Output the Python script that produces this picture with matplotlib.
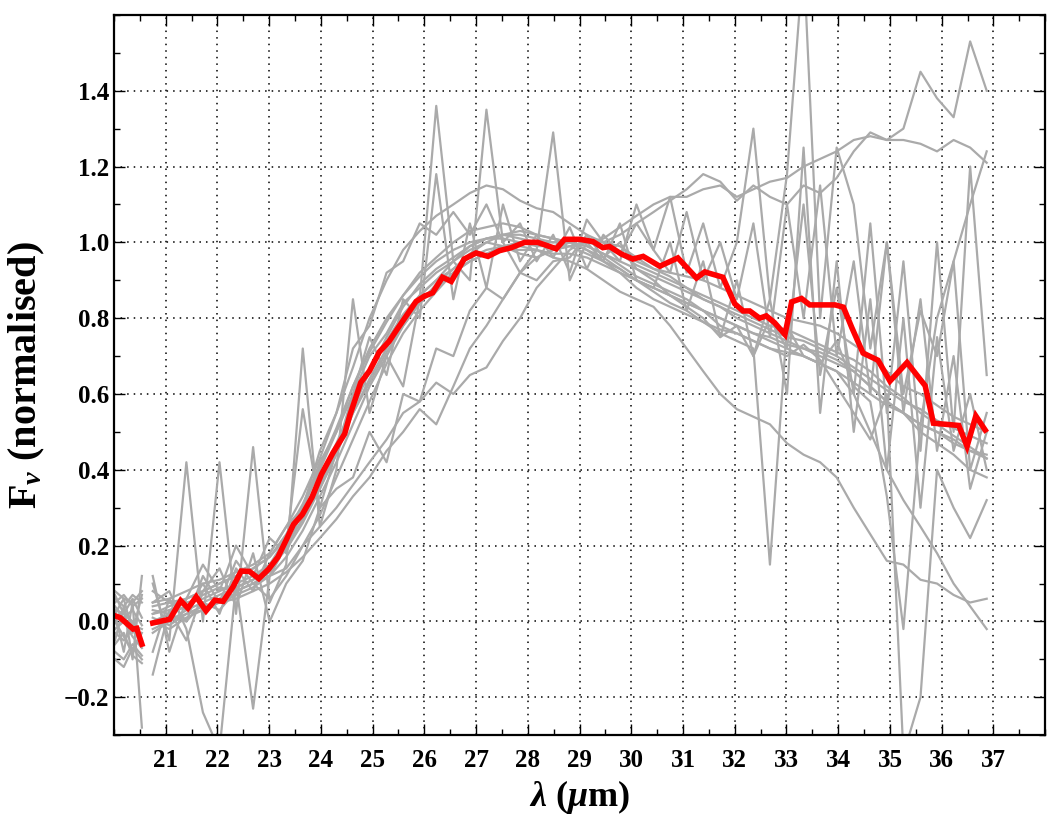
import matplotlib
matplotlib.use("Agg")
import matplotlib.pyplot as plt
from matplotlib.ticker import MultipleLocator

plt.rcParams['font.family'] = ['Liberation Serif', 'DejaVu Serif']
plt.rcParams['font.weight'] = 'bold'
plt.rcParams['mathtext.fontset'] = 'custom'
plt.rcParams['mathtext.rm'] = 'Liberation Serif:bold'
plt.rcParams['mathtext.it'] = 'Liberation Serif:italic:bold'
plt.rcParams['mathtext.bf'] = 'Liberation Serif:bold'

# wavelength sampling of the individual spectra (um)
wave_a = [20.02, 20.19, 20.36, 20.54]
wave_b = [20.75, 21.07, 21.40, 21.72, 22.04, 22.36, 22.69, 23.01, 23.33, 23.65,
          23.98, 24.30, 24.62, 24.94, 25.27, 25.59, 25.91, 26.23, 26.56, 26.88,
          27.20, 27.52, 27.85, 28.17, 28.49, 28.81, 29.14, 29.46, 29.78, 30.10,
          30.43, 30.75, 31.07, 31.39, 31.72, 32.04, 32.36, 32.68, 33.01, 33.33,
          33.65, 33.97, 34.30, 34.62, 34.94, 35.26, 35.59, 35.91, 36.23, 36.55,
          36.87]

# individual normalised spectra (grey)
spec_a = [
    [0.05, 0.07, 0.04, 0.06],
    [-0.03, -0.05, -0.02, -0.06],
    [0.08, 0.06, 0.05, 0.08],
    [0.00, -0.04, -0.08, -0.03],
    [0.03, 0.02, 0.00, -0.05],
    [-0.05, 0.04, -0.10, 0.12],
    [0.02, -0.08, 0.05, -0.28],
    [0.01, 0.03, -0.01, -0.02],
    [0.06, 0.04, 0.07, 0.05],
    [-0.08, -0.10, -0.06, -0.09],
    [0.04, 0.01, 0.03, -0.01],
    [-0.02, 0.00, -0.04, -0.07],
    [0.07, 0.02, 0.06, 0.01],
    [-0.10, -0.12, -0.07, -0.10],
    [0.02, 0.06, -0.03, 0.07],
    [-0.06, -0.03, -0.09, -0.11],
]
spec_b = [
    [0.02, 0.03, 0.05, 0.06, 0.08, 0.10, 0.12, 0.15, 0.22, 0.30, 0.40, 0.50, 0.62, 0.72, 0.80, 0.86, 0.92,
     0.96, 1.00, 1.03, 1.04, 1.05, 1.04, 1.02, 1.01, 1.00, 0.99, 0.97, 0.95, 0.93, 0.91, 0.89, 0.87, 0.85,
     0.83, 0.81, 0.79, 0.77, 0.75, 0.74, 0.72, 0.70, 0.67, 0.64, 0.61, 0.58, 0.56, 0.53, 0.51, 0.49, 0.47],
    [-0.02, 0.00, 0.02, 0.04, 0.05, 0.07, 0.09, 0.12, 0.17, 0.24, 0.33, 0.42, 0.52, 0.62, 0.70, 0.78, 0.84,
     0.89, 0.93, 0.97, 1.00, 1.02, 1.03, 1.02, 1.01, 1.00, 0.98, 0.96, 0.93, 0.90, 0.88, 0.86, 0.84, 0.82,
     0.80, 0.78, 0.76, 0.75, 0.73, 0.72, 0.70, 0.68, 0.66, 0.62, 0.58, 0.55, 0.52, 0.50, 0.47, 0.45, 0.44],
    [0.05, 0.06, 0.08, 0.10, 0.11, 0.13, 0.15, 0.18, 0.25, 0.33, 0.43, 0.55, 0.67, 0.80, 0.90, 0.98, 1.03,
     1.07, 1.10, 1.13, 1.15, 1.14, 1.11, 1.09, 1.08, 1.05, 1.02, 1.00, 0.97, 0.95, 0.93, 0.92, 0.91, 0.90,
     0.88, 0.86, 0.84, 0.82, 0.80, 0.79, 0.78, 0.76, 0.73, 0.70, 0.66, 0.62, 0.60, 0.57, 0.54, 0.52, 0.50],
    [0.00, -0.02, 0.01, 0.03, 0.05, 0.06, 0.08, 0.10, 0.13, 0.17, 0.22, 0.27, 0.33, 0.38, 0.45, 0.50, 0.56,
     0.52, 0.62, 0.72, 0.78, 0.85, 0.92, 0.96, 0.98, 0.99, 1.00, 0.99, 0.97, 0.94, 0.92, 0.90, 0.88, 0.85,
     0.83, 0.80, 0.78, 0.76, 0.74, 0.72, 0.71, 0.69, 0.66, 0.62, 0.58, 0.55, 0.50, 0.47, 0.44, 0.40, 0.38],
    [0.03, 0.02, 0.04, 0.07, 0.09, 0.08, 0.10, 0.12, 0.14, 0.20, 0.25, 0.30, 0.36, 0.42, 0.48, 0.55, 0.58,
     0.63, 0.60, 0.65, 0.67, 0.74, 0.80, 0.88, 0.93, 0.98, 1.01, 1.00, 0.99, 0.96, 0.93, 0.91, 0.88, 0.86,
     0.84, 0.82, 0.80, 0.78, 0.77, 0.75, 0.73, 0.71, 0.69, 0.66, 0.62, 0.59, 0.55, 0.52, 0.49, 0.46, 0.43],
    [0.10, -0.05, 0.42, 0.00, 0.42, 0.02, 0.46, 0.05, 0.15, 0.72, 0.25, 0.40, 0.85, 0.55, 0.70, 0.62, 0.85,
     1.36, 0.95, 0.90, 1.35, 1.00, 0.92, 0.98, 1.29, 0.90, 1.00, 0.95, 1.05, 0.90, 0.88, 1.00, 0.82, 0.95,
     0.75, 0.90, 0.70, 0.85, 0.60, 1.25, 0.55, 0.95, 0.50, 0.85, 0.40, 0.80, 0.30, 0.75, 0.45, 0.60, 0.40],
    [0.05, 0.08, -0.02, -0.24, -0.34, 0.10, -0.23, 0.12, 0.20, 0.56, 0.30, 0.45, 0.60, 0.75, 0.65, 0.85, 0.80,
     1.18, 0.85, 1.05, 0.88, 1.10, 0.95, 1.02, 0.96, 1.04, 0.93, 1.02, 0.97, 1.05, 0.98, 0.92, 1.08, 0.90,
     1.00, 0.85, 1.05, 0.75, 1.10, 0.80, 1.15, 0.70, 0.95, 0.60, 1.00, 0.55, 0.85, 0.45, 0.70, 0.35, 0.50],
    [0.00, 0.02, 0.00, 0.05, 0.03, 0.08, 0.10, 0.13, 0.20, 0.27, 0.35, 0.44, 0.55, 0.64, 0.72, 0.80, 0.86,
     0.90, 0.95, 0.99, 1.01, 1.01, 1.00, 0.99, 0.99, 1.00, 0.98, 0.95, 0.92, 0.88, 0.85, 0.83, 0.81, 0.79,
     0.77, 0.76, 0.74, 0.72, 0.71, 0.70, 0.68, 0.66, 0.63, 0.60, 0.57, 0.55, 0.52, 0.50, 0.48, 0.45, 0.43],
    [0.04, 0.05, 0.06, 0.08, 0.10, 0.12, 0.14, 0.17, 0.23, 0.31, 0.41, 0.51, 0.62, 0.71, 0.79, 0.86, 0.91,
     0.95, 0.98, 1.00, 1.01, 1.02, 1.02, 1.01, 1.00, 1.01, 1.00, 1.01, 1.04, 1.07, 1.10, 1.12, 1.12, 1.14,
     1.15, 1.12, 1.14, 1.16, 1.17, 1.20, 1.22, 1.24, 1.27, 1.28, 1.27, 1.27, 1.26, 1.24, 1.27, 1.25, 1.21],
    [-0.03, 0.00, 0.03, 0.05, 0.07, 0.09, 0.11, 0.14, 0.19, 0.26, 0.35, 0.45, 0.56, 0.66, 0.75, 0.83, 0.89,
     0.93, 0.96, 0.99, 1.01, 1.02, 1.01, 1.00, 1.00, 1.00, 1.01, 1.00, 1.02, 1.05, 1.08, 1.11, 1.14, 1.18,
     1.16, 1.11, 1.15, 1.12, 1.10, 1.15, 1.13, 1.17, 1.24, 1.29, 1.27, 1.30, 1.45, 1.38, 1.33, 1.53, 1.40],
    [0.02, 0.04, 0.06, 0.08, 0.10, 0.12, 0.14, 0.17, 0.22, 0.29, 0.38, 0.47, 0.57, 0.66, 0.74, 0.81, 0.86,
     0.90, 0.93, 0.96, 0.98, 0.99, 0.99, 0.98, 0.96, 0.95, 0.93, 0.90, 0.87, 0.85, 0.83, 0.78, 0.72, 0.66,
     0.60, 0.56, 0.54, 0.52, 0.47, 0.44, 0.42, 0.38, 0.30, 0.23, 0.16, 0.15, 0.11, 0.10, 0.07, 0.05, 0.06],
    [0.01, -0.01, 0.02, 0.03, 0.06, 0.09, 0.11, 0.15, 0.20, 0.27, 0.36, 0.45, 0.55, 0.63, 0.71, 0.78, 0.84,
     0.88, 0.92, 0.95, 0.97, 0.98, 0.98, 0.98, 0.97, 0.97, 0.96, 0.94, 0.92, 0.90, 0.88, 0.86, 0.84, 0.82,
     0.80, 0.78, 0.76, 0.74, 0.72, 0.70, 0.68, 0.66, 0.60, 0.50, 0.40, 0.32, 0.25, 0.18, 0.10, 0.04, -0.02],
    [0.08, 0.05, 0.03, 0.10, 0.02, 0.14, 0.08, 0.18, 0.25, 0.30, 0.42, 0.50, 0.60, 0.70, 0.76, 0.84, 0.88,
     0.92, 0.95, 0.98, 1.00, 0.99, 0.97, 0.96, 0.98, 1.00, 0.99, 0.97, 0.94, 0.91, 0.89, 0.87, 0.85, 0.82,
     0.78, 0.76, 0.74, 0.72, 0.70, 0.73, 0.69, 0.62, 0.55, 0.48, 0.60, -0.35, -0.20, 0.40, 0.30, 0.22, 0.32],
    [-0.08, 0.06, 0.00, 0.12, 0.05, 0.16, 0.10, 0.06, 0.12, 0.20, 0.28, 0.38, 0.48, 0.58, 0.68, 0.76, 0.82,
     0.87, 0.92, 0.95, 0.97, 0.99, 1.00, 1.00, 0.98, 0.99, 0.97, 0.95, 0.93, 0.90, 0.87, 0.84, 0.82, 0.79,
     0.76, 0.74, 0.72, 0.15, 0.78, 0.70, 0.68, 0.74, 0.62, 0.58, 0.33, -0.02, 0.52, 0.80, 0.95, 1.10, 1.24],
    [0.12, -0.08, 0.06, 0.15, 0.08, 0.20, 0.12, 0.22, 0.18, 0.30, 0.45, 0.55, 0.72, 0.78, 0.92, 0.95, 1.05,
     1.02, 1.08, 1.02, 1.10, 1.00, 1.05, 0.95, 1.02, 0.92, 1.06, 1.00, 0.95, 1.10, 0.98, 1.12, 0.92, 1.05,
     0.88, 1.00, 1.30, 0.85, 1.18, 1.75, 0.80, 1.25, 1.10, 0.72, 1.00, 0.60, 0.82, 0.70, 0.95, 0.40, 0.55],
    [-0.14, 0.03, -0.05, 0.08, 0.14, 0.04, 0.18, 0.00, 0.10, 0.16, 0.30, 0.35, 0.38, 0.50, 0.42, 0.60, 0.58,
     0.72, 0.70, 0.82, 0.88, 0.85, 0.92, 0.90, 0.95, 0.96, 1.02, 0.96, 1.00, 0.93, 0.90, 0.86, 0.83, 0.80,
     0.75, 0.78, 0.70, 0.80, 0.72, 1.10, 0.65, 0.88, 0.60, 1.05, 0.55, 0.95, 0.45, 1.00, 0.50, 1.20, 0.65],
]

# median spectrum (red)
med_wave_a = [20.02, 20.12, 20.37, 20.44, 20.54]
med_flux_a = [0.015, 0.01, -0.02, -0.018, -0.06]
med_wave_b = [20.75, 21.08, 21.29, 21.43, 21.59, 21.78, 21.95, 22.11, 22.30, 22.46, 22.62, 22.80,
              22.99, 23.17, 23.33, 23.47, 23.64, 23.83, 24.01, 24.23, 24.46, 24.56, 24.77, 24.94,
              25.13, 25.32, 25.48, 25.65, 25.84, 26.00, 26.16, 26.35, 26.52, 26.77, 27.00, 27.23,
              27.45, 27.68, 27.94, 28.19, 28.55, 28.71, 29.00, 29.26, 29.45, 29.58, 29.81, 30.03,
              30.23, 30.55, 30.90, 31.26, 31.42, 31.77, 32.00, 32.16, 32.29, 32.48, 32.61, 32.77,
              32.97, 33.10, 33.29, 33.45, 33.68, 33.94, 34.10, 34.26, 34.48, 34.77, 35.00, 35.33,
              35.68, 35.84, 36.33, 36.49, 36.66, 36.84]
med_flux_b = [-0.004, 0.006, 0.055, 0.035, 0.065, 0.028, 0.056, 0.053, 0.091, 0.133, 0.132, 0.113,
              0.138, 0.17, 0.215, 0.256, 0.282, 0.328, 0.388, 0.444, 0.495, 0.544, 0.630, 0.661,
              0.711, 0.739, 0.772, 0.806, 0.844, 0.858, 0.867, 0.908, 0.897, 0.956, 0.972, 0.963,
              0.978, 0.986, 1.0, 1.0, 0.983, 1.008, 1.008, 1.002, 0.986, 0.989, 0.969, 0.956,
              0.963, 0.937, 0.959, 0.906, 0.922, 0.908, 0.838, 0.819, 0.819, 0.80, 0.806, 0.788,
              0.757, 0.843, 0.852, 0.835, 0.835, 0.835, 0.829, 0.776, 0.708, 0.689, 0.634, 0.683,
              0.622, 0.523, 0.517, 0.462, 0.542, 0.505]

fig = plt.figure(figsize=(10.6, 8.27), dpi=100)
ax = fig.add_axes([0.1075, 0.111, 0.8785, 0.871])

grey = '#aaaaaa'
for ya, yb in zip(spec_a, spec_b):
    ax.plot(wave_a, ya, color=grey, lw=1.6)
    ax.plot(wave_b, yb, color=grey, lw=1.6)

ax.plot(med_wave_a, med_flux_a, color='red', lw=4, solid_joinstyle='miter')
ax.plot(med_wave_b, med_flux_b, color='red', lw=4, solid_joinstyle='miter')

ax.set_xlim(20, 38)
ax.set_ylim(-0.3, 1.6)
ax.set_xticks(range(21, 38))
ax.set_yticks([-0.2, 0.0, 0.2, 0.4, 0.6, 0.8, 1.0, 1.2, 1.4])
ax.xaxis.set_minor_locator(MultipleLocator(0.5))
ax.yaxis.set_minor_locator(MultipleLocator(0.1))
ax.tick_params(which='both', direction='in', top=True, right=True, labelsize=18, width=1)
ax.tick_params(which='major', length=8)
ax.tick_params(which='minor', length=4)
ax.tick_params(axis='x', pad=10)
ax.grid(True, which='major', linestyle=(0, (1, 3.3)), color='k', lw=1.1)
for s in ax.spines.values():
    s.set_linewidth(1.6)

ax.set_xlabel(r'$\lambda$ ($\mu$m)', fontsize=26, fontweight='bold', labelpad=4)
ax.set_ylabel(r'F$_\nu$ (normalised)', fontsize=29, fontweight='bold', labelpad=12)

fig.savefig('out.png', dpi=100)
